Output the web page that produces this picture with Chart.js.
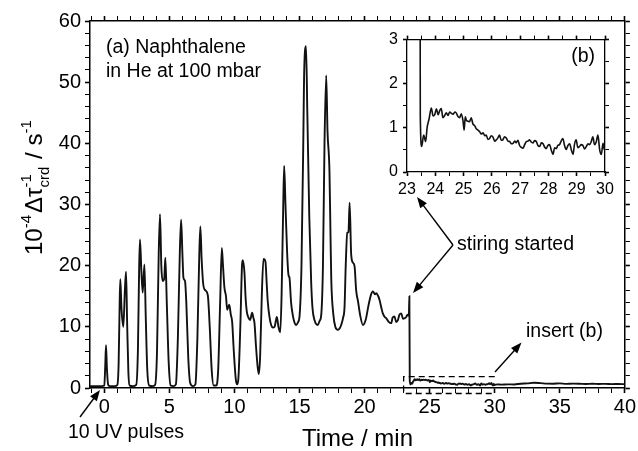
<!DOCTYPE html>
<html>
<head>
<meta charset="utf-8">
<script src="https://cdn.jsdelivr.net/npm/chart.js@4.4.0/dist/chart.umd.min.js"></script>
<style>
  html, body { margin: 0; padding: 0; background: #fff; }
  #wrap { position: relative; width: 638px; height: 451px; }
  #main { position: absolute; left: 0; top: 0; width: 638px; height: 451px; }
  #inset { position: absolute; left: 370px; top: 25px; width: 250px; height: 175px; }
</style>
</head>
<body>
<div id="wrap">
  <canvas id="main" width="638" height="451"></canvas>
  <canvas id="inset" width="250" height="175"></canvas>
</div>
<script>
// --- pulses + stirring (min, 10^-4 s^-1) ---
const pulseTime = [
  -1.1, -0.6, -0.2, 0.0, 0.07, 0.13, 0.2, 0.3, 0.45, 0.8,
  1.0, 1.1, 1.18, 1.23, 1.32, 1.46, 1.58, 1.67, 1.75, 1.85,
  1.95, 2.2, 2.45, 2.58, 2.68, 2.74, 2.85, 2.95, 3.08, 3.18,
  3.3, 3.45, 3.7, 3.9, 4.05, 4.18, 4.28, 4.38, 4.49, 4.6,
  4.69, 4.8, 4.95, 5.1, 5.3, 5.5, 5.65, 5.8, 5.9, 6.0,
  6.08, 6.2, 6.3, 6.45, 6.6, 6.8, 7.0, 7.15, 7.3, 7.38,
  7.48, 7.6, 7.75, 7.95, 8.1, 8.25, 8.4, 8.6, 8.75, 8.9,
  9.03, 9.12, 9.23, 9.35, 9.44, 9.6, 9.72, 9.82, 9.95, 10.1,
  10.2, 10.3, 10.45, 10.58, 10.64, 10.77, 10.85, 10.95, 11.08, 11.2,
  11.36, 11.45, 11.54, 11.65, 11.78, 11.87, 11.97, 12.1, 12.23, 12.38,
  12.48, 12.56, 12.7, 12.82, 12.95, 13.08, 13.2, 13.26, 13.38, 13.52,
  13.62, 13.75, 13.82, 13.92, 14.05, 14.15, 14.23, 14.35, 14.5, 14.6,
  14.74, 14.9, 15.0, 15.15, 15.3, 15.35, 15.5, 15.6, 15.75, 15.9,
  16.0, 16.15, 16.4, 16.55, 16.67, 16.8, 16.92, 17.05, 17.15, 17.3,
  17.38, 17.44, 17.6, 17.75, 17.95, 18.1, 18.2, 18.35, 18.46, 18.55,
  18.67, 18.76, 18.85, 18.97, 19.1, 19.23, 19.35, 19.5, 19.65, 19.87,
  20.08, 20.3, 20.5, 20.64, 20.8, 20.9, 21.05, 21.15, 21.3, 21.4,
  21.55, 21.67, 21.85, 22.05, 22.15, 22.3, 22.42, 22.56, 22.68, 22.82,
  22.95, 23.08, 23.2, 23.3, 23.4, 23.44, 23.47
];
const pulseSignal = [
  0.3, 0.3, 0.3, 0.4, 3.5, 7.0, 3.2, 0.5, 0.3, 0.3,
  0.5, 4, 14, 17.8, 13, 10, 16, 19.0, 11, 2.5,
  0.4, 0.3, 0.5, 6, 20, 24.3, 19, 15.6, 20.2, 12,
  3, 0.4, 0.3, 0.5, 6, 22, 28.4, 20, 17.5, 17.8,
  21.3, 14, 4, 0.4, 0.3, 0.6, 8, 22, 27.5, 22,
  18, 17.5, 14, 5, 0.8, 0.3, 0.6, 8, 22, 26.4,
  21, 17, 16, 15.2, 10, 3, 0.4, 0.4, 3, 14,
  22.9, 20, 16.4, 15, 12.8, 13.6, 12, 10.9, 6, 1.5,
  0.6, 1.5, 10, 20, 20.9, 18.8, 15, 12.5, 11.5, 11.1,
  12.3, 11.5, 10.6, 7, 3.5, 2.3, 5, 15, 21.1, 20.7,
  17, 14.1, 11.5, 10.3, 9.9, 10.0, 11.2, 11.6, 10, 9.1,
  15, 30, 36.3, 30, 22, 18.5, 18.0, 14, 11.7, 10.8,
  10.3, 10.8, 11.7, 20, 42, 50.9, 55.9, 45, 28, 17,
  13, 11.1, 10.3, 11, 12.0, 20, 40, 51.1, 42, 35.5,
  25, 17.7, 12, 10, 9.5, 9.8, 10.3, 11.5, 13.3, 20,
  25.4, 25.5, 30.3, 21.8, 20.5, 19.9, 16, 14.1, 12, 10.3,
  11.1, 13.5, 15.3, 15.8, 15.3, 15.5, 15, 14.4, 13, 12.2,
  11.6, 11.4, 10.8, 10.6, 11.5, 11.7, 10.8, 11.1, 12.0, 12.2,
  11.3, 11.4, 11.6, 12.0, 11.8, 15.0, 1.27
];

// --- after stirring, range of insert (b) ---
const insetTime = [
  23.52, 23.59, 23.66, 23.71, 23.78, 23.86, 23.92, 23.98, 24.04, 24.1,
  24.15, 24.21, 24.27, 24.33, 24.39, 24.45, 24.51, 24.57, 24.63, 24.69,
  24.74, 24.8, 24.86, 24.92, 24.98, 25.02, 25.06, 25.1, 25.16, 25.21,
  25.27, 25.33, 25.39, 25.45, 25.51, 25.57, 25.63, 25.69, 25.75, 25.8,
  25.86, 25.92, 25.98, 26.04, 26.1, 26.16, 26.22, 26.27, 26.33, 26.39,
  26.45, 26.51, 26.57, 26.63, 26.69, 26.75, 26.81, 26.86, 26.92, 26.98,
  27.04, 27.1, 27.16, 27.22, 27.28, 27.33, 27.39, 27.45, 27.51, 27.57,
  27.63, 27.69, 27.75, 27.81, 27.87, 27.92, 27.98, 28.04, 28.1, 28.16,
  28.22, 28.28, 28.33, 28.39, 28.45, 28.51, 28.57, 28.63, 28.69, 28.75,
  28.81, 28.87, 28.92, 28.98, 29.04, 29.1, 29.16, 29.22, 29.28, 29.34,
  29.4, 29.45, 29.51, 29.57, 29.63, 29.69, 29.75, 29.81, 29.87, 29.93,
  29.98
];
const insetSignal = [
  0.58, 0.84, 0.69, 1.0, 1.2, 1.45, 1.27, 1.3, 1.43, 1.3,
  1.38, 1.44, 1.23, 1.28, 1.34, 1.28, 1.36, 1.33, 1.31, 1.36,
  1.34, 1.26, 1.23, 1.32, 1.16, 0.95, 1.25, 1.17, 1.15, 1.14,
  1.23, 1.09, 1.05, 0.98, 0.95, 0.91, 0.86, 0.89, 0.82, 0.84,
  0.74, 0.76, 0.82, 0.79, 0.7, 0.73, 0.78, 0.84, 0.72, 0.73,
  0.8, 0.77, 0.7, 0.69, 0.64, 0.65, 0.7, 0.66, 0.72, 0.6,
  0.56, 0.54, 0.62, 0.69, 0.7, 0.73, 0.68, 0.66, 0.71, 0.69,
  0.6, 0.58, 0.66, 0.64, 0.56, 0.53, 0.6, 0.62, 0.5, 0.4,
  0.55, 0.53, 0.6, 0.62, 0.7, 0.76, 0.6, 0.51, 0.6, 0.64,
  0.5, 0.4, 0.62, 0.73, 0.55, 0.58, 0.62, 0.6, 0.52, 0.58,
  0.64, 0.62, 0.68, 0.8, 0.62, 0.68, 0.84, 0.51, 0.4, 0.65,
  0.5
];

// --- tail 30..40 min ---
const tailTime = [30.2, 30.5, 31, 31.5, 32, 32.5, 33, 33.5, 34, 34.5, 35,
                  35.5, 36, 36.5, 37, 37.5, 38, 38.5, 39, 39.5, 40];
const tailSignal = [0.6, 0.55, 0.6, 0.58, 0.7, 0.75, 0.85, 0.8, 0.72, 0.7, 0.75,
                    0.68, 0.72, 0.7, 0.65, 0.7, 0.66, 0.68, 0.63, 0.66, 0.62];

// ticks
const xMajorTicks = [0, 5, 10, 15, 20, 25, 30, 35, 40];
const yMajorTicks = [0, 10, 20, 30, 40, 50, 60];
const insetXTicks = [23, 24, 25, 26, 27, 28, 29, 30];
const insetYTicks = [0, 1, 2, 3];
// dashed frame marking the insert (min / 10^-4 s^-1)
const insertBoxX = [23, 30];
const insertBoxY = [-0.9, 1.85];

const FONT = "'Liberation Sans', Arial, Helvetica, sans-serif";
Chart.defaults.font.family = FONT;
Chart.defaults.color = '#000';

const allTime = pulseTime.concat(insetTime, tailTime);
const allSignal = pulseSignal.concat(insetSignal, tailSignal);
const trace = allTime.map((t, i) => ({ x: t, y: allSignal[i] }));

function stepTicks(from, to, step) {
  const out = [];
  const n = Math.round((to - from) / step);
  for (let i = 0; i <= n; i++) out.push({ value: +(from + i * step).toFixed(4) });
  return out;
}

// plain tick marks outside the frame; majors a bit heavier than minors
function tickGrid(major, len) {
  return {
    display: true,
    drawOnChartArea: false,
    drawTicks: true,
    tickLength: len,
    color: '#000',
    lineWidth: 1,
    tickColor: '#000',
    tickWidth: (c) => (c.tick && major.includes(c.tick.value)) ? 1.6 : 1
  };
}

function arrow(ctx, x1, y1, x2, y2) {
  const a = Math.atan2(y2 - y1, x2 - x1);
  const L = 11, W = 4.2;
  ctx.beginPath();
  ctx.moveTo(x1, y1);
  ctx.lineTo(x2 - (L - 2) * Math.cos(a), y2 - (L - 2) * Math.sin(a));
  ctx.stroke();
  ctx.beginPath();
  ctx.moveTo(x2, y2);
  ctx.lineTo(x2 - L * Math.cos(a) + W * Math.sin(a), y2 - L * Math.sin(a) - W * Math.cos(a));
  ctx.lineTo(x2 - L * Math.cos(a) - W * Math.sin(a), y2 - L * Math.sin(a) + W * Math.cos(a));
  ctx.closePath();
  ctx.fill();
}

// labels, arrows, dashed frame and the y title with sub/superscripts
const mainNotes = {
  id: 'mainNotes',
  afterDraw(chart) {
    const ctx = chart.ctx;
    const xs = chart.scales.x, ys = chart.scales.y;
    ctx.save();
    ctx.fillStyle = '#000';
    ctx.strokeStyle = '#000';
    ctx.textAlign = 'left';
    ctx.textBaseline = 'alphabetic';
    ctx.font = '19.5px ' + FONT;
    ctx.fillText('(a) Naphthalene', 106, 53);
    ctx.fillText('in He at 100 mbar', 106, 77);
    ctx.fillText('stiring started', 457, 249.5);
    ctx.fillText('insert (b)', 526, 336.5);
    ctx.fillText('10 UV pulses', 68, 438);

    ctx.lineWidth = 1.4;
    arrow(ctx, 453, 245, 417, 197);
    arrow(ctx, 453, 245, 413, 293);
    arrow(ctx, 495, 372, 521.5, 342.5);
    arrow(ctx, 80, 417, 100, 390);

    const bx0 = xs.getPixelForValue(insertBoxX[0]);
    const bx1 = xs.getPixelForValue(insertBoxX[1]);
    const byT = ys.getPixelForValue(insertBoxY[1]);
    const byB = ys.getPixelForValue(insertBoxY[0]);
    ctx.lineWidth = 1.3;
    ctx.setLineDash([6, 4]);
    ctx.beginPath();
    ctx.moveTo(bx1, byT); ctx.lineTo(bx0, byT); ctx.lineTo(bx0, byB); ctx.lineTo(bx1, byB);
    ctx.stroke();
    ctx.setLineDash([]);

    // 10^-4 Δτ_crd^-1 / s^-1
    ctx.translate(42, 255);
    ctx.rotate(-Math.PI / 2);
    const big = '24px ' + FONT, small = '15px ' + FONT;
    let u = 0;
    const put = (txt, font, dy) => { ctx.font = font; ctx.fillText(txt, u, dy); return ctx.measureText(txt).width; };
    u += put('10', big, 0);
    u += put('-4', small, -11) + 2;
    u += put('Δτ', big, 0);
    ctx.font = small;
    const wSub = Math.max(ctx.measureText('crd').width, ctx.measureText('-1').width);
    put('-1', small, -11);
    put('crd', small, 7);
    u += wSub + 1;
    u += put(' / s', big, 0);
    put('-1', small, -11);
    ctx.restore();
  }
};

new Chart(document.getElementById('main'), {
  type: 'line',
  data: {
    datasets: [{
      data: trace,
      borderColor: '#111',
      borderWidth: 1.9,
      pointRadius: 0,
      fill: false,
      cubicInterpolationMode: 'monotone'
    }]
  },
  options: {
    responsive: false,
    animation: false,
    devicePixelRatio: 1,
    layout: { padding: 0 },
    plugins: { legend: { display: false }, tooltip: { enabled: false } },
    scales: {
      x: {
        type: 'linear', position: 'bottom', min: -1.1, max: 40,
        afterBuildTicks: (s) => { s.ticks = stepTicks(-1, 40, 1); },
        ticks: {
          autoSkip: false, maxRotation: 0, padding: 2,
          font: { size: 20 }, color: '#000',
          callback: (v) => xMajorTicks.includes(v) ? String(v) : ''
        },
        grid: tickGrid(xMajorTicks, 5),
        border: { display: true, color: '#000', width: 1.5 },
        title: { display: true, text: 'Time / min', font: { size: 24, lineHeight: 1 }, padding: 0, color: '#000' },
        afterFit: (s) => { s.height = 63; }
      },
      xTop: {
        type: 'linear', position: 'top', min: -1.1, max: 40,
        afterBuildTicks: (s) => { s.ticks = stepTicks(-1, 40, 1); },
        ticks: { display: false },
        grid: tickGrid(xMajorTicks, 5),
        border: { display: true, color: '#000', width: 1.5 },
        afterFit: (s) => { s.height = 21; }
      },
      y: {
        type: 'linear', position: 'left', min: 0, max: 60,
        afterBuildTicks: (s) => { s.ticks = stepTicks(0, 60, 2); },
        ticks: {
          autoSkip: false, padding: 4,
          font: { size: 20 }, color: '#000',
          callback: (v) => yMajorTicks.includes(v) ? String(v) : ''
        },
        grid: tickGrid(yMajorTicks, 5),
        border: { display: true, color: '#000', width: 1.5 },
        afterFit: (s) => { s.width = 90; }
      },
      yRight: {
        type: 'linear', position: 'right', min: 0, max: 60,
        afterBuildTicks: (s) => { s.ticks = stepTicks(0, 60, 2); },
        ticks: { display: false },
        grid: tickGrid(yMajorTicks, 5),
        border: { display: true, color: '#000', width: 1.5 },
        afterFit: (s) => { s.width = 13; }
      }
    }
  },
  plugins: [mainNotes]
});

const insetNotes = {
  id: 'insetNotes',
  afterDraw(chart) {
    const ctx = chart.ctx;
    ctx.save();
    ctx.fillStyle = '#000';
    ctx.font = '19.5px ' + FONT;
    ctx.textAlign = 'right';
    ctx.textBaseline = 'alphabetic';
    ctx.fillText('(b)', 225, 37);
    ctx.restore();
  }
};

new Chart(document.getElementById('inset'), {
  type: 'line',
  data: {
    datasets: [{
      data: trace,
      borderColor: '#111',
      borderWidth: 1.6,
      pointRadius: 0,
      fill: false,
      cubicInterpolationMode: 'monotone'
    }]
  },
  options: {
    responsive: false,
    animation: false,
    devicePixelRatio: 1,
    layout: { padding: 0 },
    plugins: { legend: { display: false }, tooltip: { enabled: false } },
    scales: {
      x: {
        type: 'linear', position: 'bottom', min: 23, max: 30,
        afterBuildTicks: (s) => { s.ticks = stepTicks(23, 30, 0.5); },
        ticks: {
          autoSkip: false, maxRotation: 0, padding: 3.5,
          font: { size: 16 }, color: '#000',
          callback: (v) => insetXTicks.includes(v) ? String(v) : ''
        },
        grid: tickGrid(insetXTicks, 4),
        border: { display: true, color: '#000', width: 1.3 },
        afterFit: (s) => { s.height = 28; }
      },
      xTop: {
        type: 'linear', position: 'top', min: 23, max: 30,
        afterBuildTicks: (s) => { s.ticks = stepTicks(23, 30, 0.5); },
        ticks: { display: false },
        grid: tickGrid(insetXTicks, 4),
        border: { display: true, color: '#000', width: 1.3 },
        afterFit: (s) => { s.height = 9; }
      },
      y: {
        type: 'linear', position: 'left', min: 0, max: 3,
        afterBuildTicks: (s) => { s.ticks = stepTicks(0, 3, 0.5); },
        ticks: {
          autoSkip: false, padding: 5,
          font: { size: 16 }, color: '#000',
          callback: (v) => insetYTicks.includes(v) ? String(v) : ''
        },
        grid: tickGrid(insetYTicks, 4),
        border: { display: true, color: '#000', width: 1.3 },
        afterFit: (s) => { s.width = 37; }
      },
      yRight: {
        type: 'linear', position: 'right', min: 0, max: 3,
        afterBuildTicks: (s) => { s.ticks = stepTicks(0, 3, 0.5); },
        ticks: { display: false },
        grid: tickGrid(insetYTicks, 4),
        border: { display: true, color: '#000', width: 1.3 },
        afterFit: (s) => { s.width = 15; }
      }
    }
  },
  plugins: [insetNotes]
});
</script>
</body>
</html>
